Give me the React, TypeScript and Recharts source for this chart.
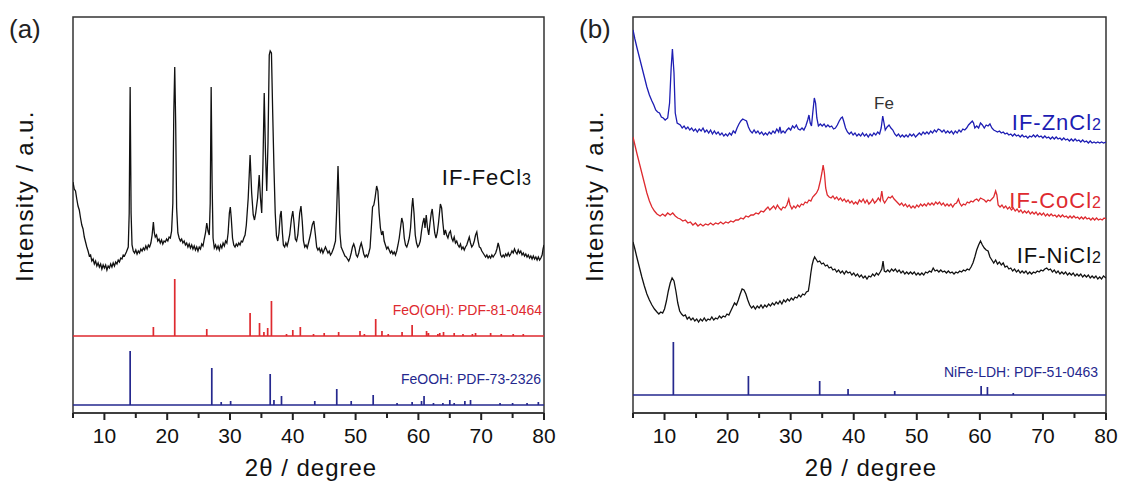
import { LineChart, Line, XAxis, YAxis, ReferenceArea } from 'recharts';

// intensity in arbitrary units (0..396 = plot height)
const FECL3 = [
  [5.0,231],[5.2,224],[5.4,222],[5.6,214],[5.8,207],[6.0,203],[6.2,195],[6.4,188],[6.6,184],[6.8,176],[7.0,171],[7.2,166],[7.4,162],[7.6,157],[7.8,158],[8.0,152],[8.2,154],[8.4,149],[8.6,152],[8.8,147],[9.0,150],[9.2,146],[9.4,149],[9.6,144],[9.8,148],[10.0,145],[10.2,148],[10.4,143],[10.6,147],[10.8,145],[11.0,149],[11.2,146],[11.4,150],[11.6,147],[11.8,151],[12.0,149],[12.2,153],[12.4,151],[12.6,155],[12.8,154],[13.0,158],[13.2,157],[13.5,161],[13.8,166],[13.95,200],[14.1,326],[14.25,200],[14.4,168],[14.6,162],[14.8,160],[15.0,163],[15.2,159],[15.4,162],[15.6,160],[15.8,164],[16.0,162],[16.2,165],[16.4,163],[16.6,167],[16.8,164],[17.0,168],[17.2,166],[17.4,170],[17.6,178],[17.8,191],[17.95,180],[18.1,176],[18.3,178],[18.5,172],[18.7,174],[18.9,170],[19.1,173],[19.3,169],[19.5,172],[19.7,171],[19.9,174],[20.1,172],[20.3,176],[20.5,175],[20.7,182],[20.9,210],[21.05,300],[21.2,346],[21.35,290],[21.5,205],[21.7,180],[21.9,175],[22.1,172],[22.3,174],[22.5,170],[22.7,172],[22.9,168],[23.1,170],[23.3,166],[23.5,169],[23.7,165],[23.9,168],[24.1,164],[24.3,167],[24.5,163],[24.7,166],[24.9,162],[25.1,166],[25.3,164],[25.5,169],[25.7,167],[25.9,174],[26.1,180],[26.3,190],[26.5,182],[26.7,178],[26.85,210],[27.0,326],[27.15,230],[27.3,175],[27.5,165],[27.7,168],[27.9,164],[28.1,167],[28.3,163],[28.5,168],[28.7,165],[28.9,170],[29.1,167],[29.3,172],[29.5,170],[29.7,180],[29.9,200],[30.05,206],[30.2,195],[30.4,175],[30.6,168],[30.8,166],[31.0,169],[31.2,167],[31.4,170],[31.6,168],[31.8,172],[32.0,171],[32.2,175],[32.4,178],[32.6,188],[32.9,215],[33.2,258],[33.45,220],[33.7,198],[33.9,193],[34.1,200],[34.4,215],[34.65,238],[34.85,215],[35.05,200],[35.25,250],[35.45,320],[35.65,260],[35.85,222],[36.05,270],[36.25,358],[36.4,362],[36.6,360],[36.8,300],[37.0,245],[37.2,200],[37.4,177],[37.6,172],[37.8,180],[38.0,198],[38.15,202],[38.35,180],[38.5,168],[38.7,166],[38.9,170],[39.1,167],[39.3,172],[39.5,178],[39.8,195],[40.0,202],[40.2,190],[40.4,174],[40.6,172],[40.8,178],[41.1,200],[41.3,207],[41.5,192],[41.7,172],[41.9,166],[42.1,168],[42.3,165],[42.5,170],[42.8,178],[43.1,188],[43.35,192],[43.6,178],[43.8,166],[44.0,163],[44.2,165],[44.4,161],[44.6,164],[44.8,160],[45.0,163],[45.2,166],[45.4,163],[45.6,160],[45.8,162],[46.0,158],[46.2,160],[46.5,165],[46.8,172],[47.0,205],[47.2,247],[47.35,215],[47.5,180],[47.7,166],[47.9,163],[48.1,160],[48.3,157],[48.5,156],[48.7,154],[48.9,152],[49.1,155],[49.3,160],[49.5,166],[49.7,169],[49.9,165],[50.1,158],[50.3,156],[50.5,160],[50.7,166],[50.9,170],[51.1,165],[51.3,159],[51.5,156],[51.7,158],[51.9,156],[52.1,160],[52.3,165],[52.5,185],[52.7,206],[52.9,208],[53.1,215],[53.35,227],[53.55,222],[53.75,200],[53.95,185],[54.15,178],[54.35,182],[54.55,172],[54.75,168],[54.95,164],[55.15,166],[55.35,163],[55.55,160],[55.75,162],[55.95,159],[56.15,161],[56.35,158],[56.55,162],[56.75,168],[56.95,175],[57.15,185],[57.35,195],[57.55,190],[57.75,175],[57.95,168],[58.15,166],[58.35,170],[58.55,175],[58.75,185],[58.95,205],[59.1,215],[59.3,200],[59.5,178],[59.7,170],[59.9,166],[60.1,168],[60.3,172],[60.5,182],[60.7,190],[60.9,195],[61.05,185],[61.25,198],[61.45,185],[61.65,178],[61.85,190],[62.05,200],[62.2,204],[62.4,192],[62.6,180],[62.8,175],[63.0,180],[63.2,190],[63.5,209],[63.7,205],[63.9,190],[64.1,178],[64.3,183],[64.5,178],[64.7,175],[64.9,180],[65.1,182],[65.3,175],[65.5,172],[65.7,176],[65.9,170],[66.1,172],[66.3,168],[66.5,166],[66.7,169],[66.9,164],[67.1,166],[67.3,163],[67.5,166],[67.7,168],[67.9,172],[68.1,176],[68.3,170],[68.5,166],[68.7,168],[68.9,172],[69.1,178],[69.3,181],[69.5,172],[69.7,166],[69.9,165],[70.1,162],[70.3,160],[70.5,158],[70.7,156],[70.9,158],[71.1,155],[71.3,157],[71.5,155],[71.7,158],[71.9,156],[72.1,158],[72.3,160],[72.5,164],[72.7,170],[72.9,165],[73.1,158],[73.3,156],[73.5,158],[73.7,156],[73.9,159],[74.1,157],[74.3,160],[74.5,157],[74.7,159],[74.9,162],[75.1,160],[75.3,164],[75.5,161],[75.7,159],[75.9,163],[76.1,160],[76.3,162],[76.5,158],[76.7,160],[76.9,157],[77.1,159],[77.3,156],[77.5,158],[77.7,155],[77.9,157],[78.1,154],[78.3,157],[78.5,154],[78.7,156],[78.9,153],[79.1,156],[79.3,153],[79.5,155],[79.7,158],[79.85,164],[80.0,168],
];

// reference sticks: [2theta, relative height]
const FEO_OH_BASE = 77;
const FEO_OH_STICKS = [
  [17.8,9],[21.2,57],[26.3,7],[33.2,23],[34.7,13],[35.4,4],[36.0,8],[36.6,35],[39.0,2],[40.0,6],[41.2,9],[43.3,2],[45.0,3],[47.3,4],[50.7,5],[51.4,2],[53.2,17],[54.2,5],[55.2,2],[57.4,4],[59.0,11],[61.3,5],[61.6,3],[63.1,2],[63.4,3],[64.0,4],[65.7,3],[67.1,2],[68.6,2],[69.1,3],[71.5,3],[73.2,2],[75.1,2],[76.7,2],
];
const FEOOH_BASE = 8;
const FEOOH_STICKS = [
  [14.1,54],[27.1,37],[28.6,3],[30.1,4],[36.4,31],[37.0,5],[38.2,9],[43.5,4],[47.0,16],[49.3,4],[52.8,10],[56.6,2],[59.0,3],[60.5,4],[60.9,9],[62.4,2],[63.9,2],[65.0,5],[65.7,2],[67.4,4],[68.3,5],[73.0,2],[75.0,2],[77.3,2],[79.1,3],
];

const ZNCL2 = [
  [5.0,383],[5.3,374],[5.6,366],[6.0,356],[6.4,346],[6.8,336],[7.2,326],[7.6,318],[8.0,312],[8.3,308],[8.6,303],[8.9,301],[9.2,300],[9.5,296],[9.8,295],[10.1,293],[10.5,295],[10.8,310],[11.05,345],[11.25,364],[11.5,340],[11.7,300],[12.0,290],[12.5,288],[12.8,285],[13.1,287],[13.4,284],[13.7,286],[14.0,283],[14.3,285],[14.6,282],[14.9,284],[15.2,281],[15.5,284],[15.8,282],[16.1,285],[16.4,281],[16.7,283],[17.0,280],[17.3,283],[17.6,279],[17.9,282],[18.2,279],[18.5,281],[18.8,278],[19.1,280],[19.4,277],[19.7,279],[20.0,277],[20.3,280],[20.6,278],[20.9,282],[21.2,280],[21.5,285],[21.8,289],[22.1,292],[22.4,294],[22.7,293],[23.0,292],[23.3,286],[23.6,282],[23.9,280],[24.2,283],[24.5,280],[24.8,282],[25.1,279],[25.4,281],[25.7,278],[26.0,280],[26.3,278],[26.6,281],[26.9,279],[27.2,282],[27.5,280],[27.8,284],[28.1,281],[28.3,286],[28.5,280],[28.8,282],[29.1,280],[29.4,283],[29.7,285],[30.0,283],[30.3,287],[30.6,285],[30.9,288],[31.2,284],[31.5,283],[31.8,285],[32.1,283],[32.4,287],[32.7,293],[32.9,298],[33.1,290],[33.3,287],[33.5,300],[33.75,315],[33.95,310],[34.15,295],[34.4,287],[34.7,289],[35.0,287],[35.3,289],[35.6,286],[35.9,288],[36.2,286],[36.5,287],[36.8,284],[37.1,285],[37.4,288],[37.7,292],[38.0,295],[38.2,296],[38.4,292],[38.7,285],[39.0,281],[39.3,279],[39.6,281],[39.9,278],[40.2,280],[40.5,277],[40.8,279],[41.1,277],[41.4,280],[41.7,277],[42.0,279],[42.3,276],[42.6,279],[42.9,277],[43.2,280],[43.5,278],[43.8,281],[44.1,279],[44.35,285],[44.6,297],[44.8,290],[45.0,283],[45.3,286],[45.6,288],[45.9,285],[46.2,283],[46.5,279],[46.8,277],[47.1,279],[47.4,276],[47.7,278],[48.0,276],[48.3,278],[48.6,276],[48.9,279],[49.2,277],[49.5,279],[49.8,276],[50.1,278],[50.4,280],[50.7,278],[51.0,281],[51.3,279],[51.6,281],[51.9,279],[52.2,282],[52.5,280],[52.8,283],[53.1,281],[53.4,284],[53.7,283],[54.0,281],[54.3,283],[54.6,280],[54.9,282],[55.2,280],[55.5,282],[55.8,279],[56.1,282],[56.4,280],[56.7,283],[57.0,281],[57.3,284],[57.6,283],[57.9,285],[58.2,288],[58.5,290],[58.8,292],[59.0,290],[59.2,285],[59.5,287],[59.8,285],[60.1,290],[60.4,288],[60.7,285],[61.0,288],[61.3,287],[61.6,289],[61.9,285],[62.2,283],[62.5,282],[62.8,281],[63.1,282],[63.4,280],[63.7,281],[64.0,279],[64.3,280],[64.6,278],[64.9,279],[65.2,277],[65.5,279],[65.8,277],[66.1,278],[66.4,276],[66.7,278],[67.0,276],[67.3,277],[67.6,275],[67.9,277],[68.2,276],[68.5,278],[68.8,276],[69.1,278],[69.4,276],[69.7,277],[70.0,275],[70.3,277],[70.6,275],[70.9,276],[71.2,274],[71.5,276],[71.8,274],[72.1,276],[72.4,274],[72.7,275],[73.0,273],[73.3,275],[73.6,273],[73.9,274],[74.2,272],[74.5,274],[74.8,272],[75.1,274],[75.4,272],[75.7,273],[76.0,271],[76.3,273],[76.6,271],[76.9,272],[77.2,270],[77.5,272],[77.8,270],[78.1,271],[78.4,270],[78.7,271],[79.0,270],[79.3,271],[79.6,270],[80.0,271],
];

const COCL2 = [
  [5.0,276],[5.3,268],[5.6,260],[6.0,250],[6.4,240],[6.8,230],[7.2,220],[7.6,212],[8.0,206],[8.4,202],[8.8,199],[9.3,197],[9.7,199],[10.1,197],[10.5,200],[10.9,198],[11.3,200],[11.7,197],[12.1,195],[12.5,194],[12.9,192],[13.3,193],[13.7,190],[14.1,191],[14.5,188],[14.9,190],[15.3,187],[15.7,189],[16.1,187],[16.5,189],[16.9,188],[17.3,190],[17.7,188],[18.1,190],[18.5,189],[18.9,191],[19.3,189],[19.7,191],[20.1,190],[20.5,192],[20.9,191],[21.3,193],[21.7,193],[22.1,195],[22.5,194],[22.9,197],[23.3,196],[23.7,198],[24.1,198],[24.5,200],[24.9,199],[25.3,202],[25.7,201],[26.1,204],[26.4,206],[26.7,203],[27.0,205],[27.3,207],[27.6,204],[27.9,208],[28.2,205],[28.5,203],[28.8,206],[29.1,205],[29.4,208],[29.7,214],[29.9,208],[30.2,204],[30.5,207],[30.8,205],[31.1,208],[31.4,206],[31.7,209],[32.0,208],[32.3,211],[32.6,210],[32.9,213],[33.2,212],[33.5,216],[33.8,218],[34.1,220],[34.4,224],[34.7,232],[34.95,240],[35.15,248],[35.35,240],[35.55,225],[35.8,218],[36.1,216],[36.4,215],[36.7,217],[37.0,214],[37.3,216],[37.6,213],[37.9,215],[38.2,212],[38.5,214],[38.8,211],[39.1,213],[39.4,210],[39.7,212],[40.0,209],[40.3,211],[40.6,209],[40.9,213],[41.2,211],[41.5,214],[41.8,210],[42.1,213],[42.4,209],[42.7,211],[43.0,214],[43.3,210],[43.6,212],[43.9,215],[44.2,212],[44.45,222],[44.65,213],[44.9,210],[45.2,213],[45.5,216],[45.8,215],[46.1,217],[46.4,214],[46.7,212],[47.0,210],[47.3,208],[47.6,210],[47.9,207],[48.2,209],[48.5,206],[48.8,208],[49.1,205],[49.4,207],[49.7,205],[50.0,208],[50.3,206],[50.6,209],[50.9,207],[51.2,209],[51.5,207],[51.8,210],[52.1,208],[52.4,210],[52.7,208],[53.0,211],[53.3,209],[53.6,211],[53.9,208],[54.2,210],[54.5,207],[54.8,209],[55.1,207],[55.4,209],[55.7,206],[56.0,209],[56.3,210],[56.6,214],[56.8,210],[57.1,207],[57.4,209],[57.7,208],[58.0,211],[58.3,210],[58.6,212],[58.9,211],[59.2,213],[59.5,214],[59.8,212],[60.1,215],[60.4,214],[60.7,213],[61.0,211],[61.3,213],[61.6,212],[61.9,214],[62.2,216],[62.5,222],[62.7,218],[62.9,208],[63.2,206],[63.5,208],[63.8,205],[64.1,207],[64.4,204],[64.7,206],[65.0,203],[65.3,205],[65.6,202],[65.9,204],[66.2,201],[66.5,203],[66.8,200],[67.1,202],[67.4,200],[67.7,202],[68.0,199],[68.3,201],[68.6,199],[68.9,201],[69.2,198],[69.5,200],[69.8,198],[70.1,200],[70.4,197],[70.7,199],[71.0,197],[71.3,199],[71.6,197],[71.9,198],[72.2,196],[72.5,198],[72.8,196],[73.1,198],[73.4,196],[73.7,197],[74.0,195],[74.3,197],[74.6,195],[74.9,197],[75.2,195],[75.5,196],[75.8,194],[76.1,196],[76.4,194],[76.7,196],[77.0,194],[77.3,195],[77.6,193],[77.9,195],[78.2,193],[78.5,195],[78.8,193],[79.1,194],[79.4,193],[79.7,195],[80.0,194],
];

const NICL2 = [
  [5.0,171],[5.3,164],[5.6,156],[6.0,146],[6.4,136],[6.8,127],[7.2,119],[7.6,113],[8.0,108],[8.4,104],[8.8,101],[9.1,99],[9.4,101],[9.7,100],[10.0,104],[10.3,112],[10.6,122],[10.9,130],[11.2,135],[11.5,132],[11.8,122],[12.1,110],[12.4,102],[12.7,99],[13.0,97],[13.3,98],[13.6,94],[13.9,96],[14.2,93],[14.5,95],[14.8,92],[15.1,94],[15.4,91],[15.7,94],[16.0,92],[16.3,95],[16.6,92],[16.9,94],[17.2,93],[17.5,96],[17.8,93],[18.1,95],[18.4,94],[18.7,97],[19.0,95],[19.3,97],[19.6,96],[19.9,99],[20.2,98],[20.5,102],[20.8,106],[21.1,110],[21.4,108],[21.7,113],[22.0,119],[22.3,124],[22.6,123],[22.9,119],[23.2,113],[23.5,108],[23.8,105],[24.1,107],[24.4,104],[24.7,107],[25.0,105],[25.3,108],[25.6,105],[25.9,108],[26.2,106],[26.5,109],[26.8,107],[27.1,110],[27.4,108],[27.7,111],[28.0,109],[28.3,112],[28.6,109],[28.9,113],[29.2,111],[29.5,114],[29.8,112],[30.1,115],[30.4,113],[30.7,116],[31.0,115],[31.3,118],[31.6,116],[31.9,119],[32.2,118],[32.5,121],[32.8,122],[33.0,130],[33.2,140],[33.4,148],[33.6,153],[33.8,156],[34.0,154],[34.3,151],[34.6,152],[34.9,149],[35.2,150],[35.5,147],[35.8,148],[36.1,145],[36.4,146],[36.7,143],[37.0,144],[37.3,141],[37.6,143],[37.9,140],[38.2,142],[38.5,139],[38.8,142],[39.1,140],[39.4,141],[39.7,138],[40.0,140],[40.3,137],[40.6,139],[40.9,136],[41.2,138],[41.5,135],[41.8,137],[42.1,134],[42.4,137],[42.7,136],[43.0,139],[43.3,137],[43.6,140],[43.9,138],[44.2,141],[44.45,144],[44.65,152],[44.85,142],[45.1,141],[45.4,143],[45.7,141],[46.0,144],[46.3,142],[46.6,144],[46.9,141],[47.2,143],[47.5,140],[47.8,142],[48.1,139],[48.4,141],[48.7,139],[49.0,141],[49.3,139],[49.6,141],[49.9,138],[50.2,140],[50.5,138],[50.8,140],[51.1,138],[51.4,141],[51.7,140],[52.0,142],[52.3,141],[52.6,145],[52.9,142],[53.2,143],[53.5,141],[53.8,143],[54.1,141],[54.4,142],[54.7,140],[55.0,142],[55.3,140],[55.6,141],[55.9,139],[56.2,141],[56.5,140],[56.8,142],[57.1,141],[57.4,143],[57.7,142],[58.0,144],[58.3,143],[58.6,146],[58.9,150],[59.2,156],[59.5,163],[59.8,168],[60.1,172],[60.4,168],[60.7,165],[61.0,163],[61.3,162],[61.6,156],[61.9,153],[62.2,150],[62.5,153],[62.8,149],[63.1,151],[63.4,148],[63.7,150],[64.0,146],[64.3,147],[64.6,144],[64.9,145],[65.2,142],[65.5,144],[65.8,141],[66.1,143],[66.4,140],[66.7,142],[67.0,140],[67.3,142],[67.6,139],[67.9,141],[68.2,139],[68.5,141],[68.8,140],[69.1,142],[69.4,141],[69.7,143],[70.0,142],[70.3,144],[70.6,145],[70.9,143],[71.2,144],[71.5,141],[71.8,143],[72.1,140],[72.4,142],[72.7,139],[73.0,141],[73.3,139],[73.6,141],[73.9,138],[74.2,140],[74.5,138],[74.8,140],[75.1,137],[75.4,139],[75.7,137],[76.0,139],[76.3,136],[76.6,138],[76.9,136],[77.2,138],[77.5,135],[77.8,137],[78.1,135],[78.4,137],[78.7,134],[79.0,136],[79.3,134],[79.6,137],[80.0,135],
];

const NIFE_LDH_BASE = 18;
const NIFE_LDH_STICKS = [
  [11.4,53],[23.3,19],[34.6,14],[39.1,6],[46.5,4],[60.2,9],[61.2,8],[65.3,2],
];

const X_TICKS = [5, 10, 15, 20, 25, 30, 35, 40, 45, 50, 55, 60, 65, 70, 75, 80];

const FONT = '"Liberation Sans", Arial, sans-serif';
const RED = '#de2a2f';
const BLUE = '#1d1db3';
const NAVY = '#25288e';

const toPoints = (arr: number[][]) => arr.map(([x, y]) => ({ x, y }));

// stick pattern drawn as one polyline: baseline -> up -> down -> baseline
const stickPoints = (sticks: number[][], base: number) => {
  const pts = [{ x: 5, y: base }];
  sticks.forEach(([x, h]) => {
    pts.push({ x, y: base }, { x, y: base + h }, { x, y: base });
  });
  pts.push({ x: 80, y: base });
  return pts;
};

// short outward tick for every 5, label for the tens
const XTick = (props: any) => {
  const { x, y, payload } = props;
  const major = payload.value % 10 === 0 && payload.value !== 5;
  return (
    <g>
      <rect x={x - 1} y={y} width={2} height={major ? 7 : 5} fill="#222" />
      {major && (
        <text x={x} y={y + 30} textAnchor="middle" fontSize={21} fontFamily={FONT} fill="#111">
          {payload.value}
        </text>
      )}
    </g>
  );
};

function Panel({ children, left, width, marginLeft, marginRight }: any) {
  return (
    <div style={{ position: 'absolute', left, top: 0 }}>
      <LineChart
        width={width}
        height={486}
        margin={{ top: 17, right: marginRight, bottom: 33, left: marginLeft }}
      >
        <XAxis
          dataKey="x"
          type="number"
          domain={[5, 80]}
          ticks={X_TICKS}
          interval={0}
          height={40}
          tickSize={0}
          tickMargin={0}
          tickLine={false}
          tick={<XTick />}
          axisLine={{ stroke: '#333', strokeWidth: 1.5 }}
          allowDataOverflow
        />
        <YAxis type="number" domain={[0, 396]} hide width={0} allowDataOverflow />
        <ReferenceArea x1={5} x2={80} y1={0} y2={396} fill="none" stroke="#333" strokeWidth={1.5} ifOverflow="visible" />
        {children}
      </LineChart>
    </div>
  );
}

export default function App() {
  return (
    <div style={{ position: 'absolute', left: 0, top: 0, width: 1124, height: 486, background: '#fff' }}>
      <Panel left={0} width={560} marginLeft={73} marginRight={16}>
        <Line data={toPoints(FECL3)} dataKey="y" stroke="#111" strokeWidth={1.3} dot={false} isAnimationActive={false} />
        <Line data={stickPoints(FEO_OH_STICKS, FEO_OH_BASE)} dataKey="y" stroke={RED} strokeWidth={1.7} dot={false} isAnimationActive={false} />
        <Line data={stickPoints(FEOOH_STICKS, FEOOH_BASE)} dataKey="y" stroke={NAVY} strokeWidth={1.7} dot={false} isAnimationActive={false} />
      </Panel>
      <Panel left={560} width={564} marginLeft={73} marginRight={18}>
        <Line data={toPoints(ZNCL2)} dataKey="y" stroke={BLUE} strokeWidth={1.3} dot={false} isAnimationActive={false} />
        <Line data={toPoints(COCL2)} dataKey="y" stroke={RED} strokeWidth={1.3} dot={false} isAnimationActive={false} />
        <Line data={toPoints(NICL2)} dataKey="y" stroke="#111" strokeWidth={1.3} dot={false} isAnimationActive={false} />
        <Line data={stickPoints(NIFE_LDH_STICKS, NIFE_LDH_BASE)} dataKey="y" stroke={NAVY} strokeWidth={1.7} dot={false} isAnimationActive={false} />
      </Panel>
      <svg width={1124} height={486} style={{ position: 'absolute', left: 0, top: 0, pointerEvents: 'none' }} fontFamily={FONT}>
        <text x={9} y={38} fontSize={26} fill="#222">(a)</text>
        <text x={579} y={38} fontSize={26} fill="#222">(b)</text>
        <text transform="translate(33,196) rotate(-90)" textAnchor="middle" fontSize={24} letterSpacing={1.4} fill="#111">Intensity / a.u.</text>
        <text transform="translate(603,196) rotate(-90)" textAnchor="middle" fontSize={24} letterSpacing={1.4} fill="#111">Intensity / a.u.</text>
        <text x={311} y={476} textAnchor="middle" fontSize={24} letterSpacing={1} fill="#111">2θ / degree</text>
        <text x={871} y={476} textAnchor="middle" fontSize={24} letterSpacing={1} fill="#111">2θ / degree</text>
        <text x={532} y={185} textAnchor="end" fontSize={22} letterSpacing={1} fill="#111">IF-FeCl<tspan fontSize={16}>3</tspan></text>
        <text x={542} y={315} textAnchor="end" fontSize={14} fill={RED}>FeO(OH): PDF-81-0464</text>
        <text x={541} y={384} textAnchor="end" fontSize={14} fill={NAVY}>FeOOH: PDF-73-2326</text>
        <text x={884} y={109} textAnchor="middle" fontSize={17} fill="#333">Fe</text>
        <text x={1102} y={130} textAnchor="end" fontSize={22} letterSpacing={1} fill={BLUE}>IF-ZnCl<tspan fontSize={16}>2</tspan></text>
        <text x={1102} y={208} textAnchor="end" fontSize={22} letterSpacing={1} fill={RED}>IF-CoCl<tspan fontSize={16}>2</tspan></text>
        <text x={1102} y={263} textAnchor="end" fontSize={22} letterSpacing={1} fill="#111">IF-NiCl<tspan fontSize={16}>2</tspan></text>
        <text x={1098} y={377} textAnchor="end" fontSize={14} fill={NAVY}>NiFe-LDH: PDF-51-0463</text>
      </svg>
    </div>
  );
}
